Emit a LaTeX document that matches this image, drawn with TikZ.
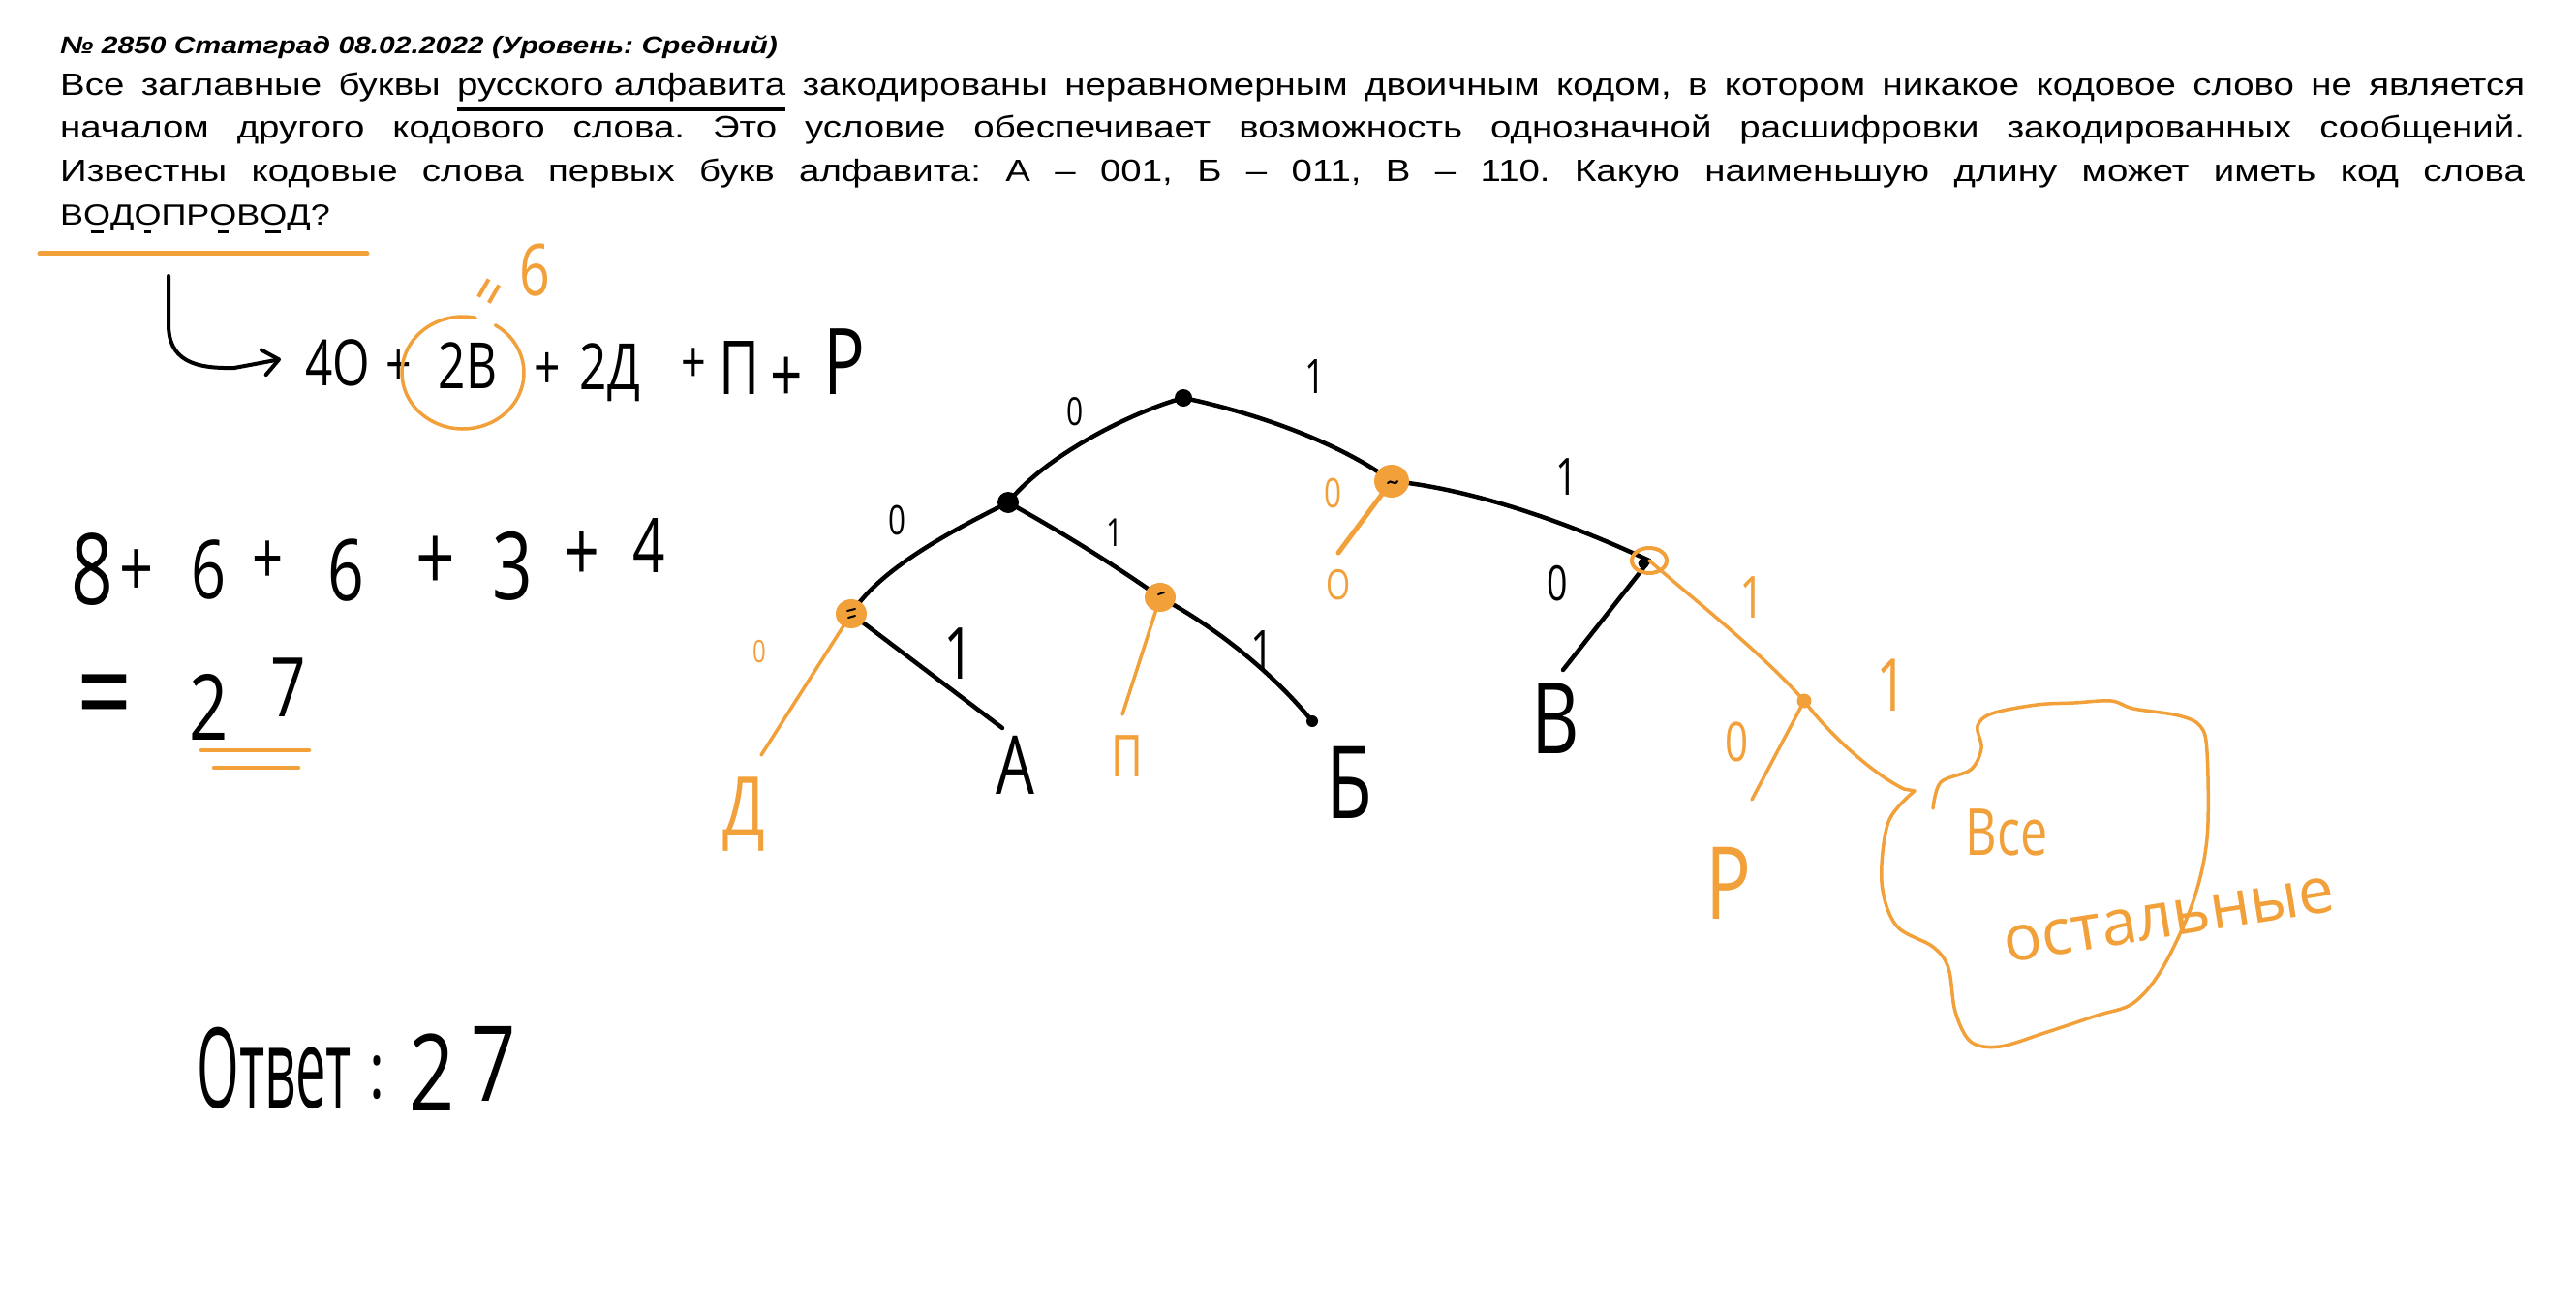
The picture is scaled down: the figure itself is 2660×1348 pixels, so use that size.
\documentclass[tikz,border=0pt]{standalone}
\usepackage{fontspec}
\setmainfont{Liberation Sans}[FakeStretch=1.2]
\newfontfamily\hwfont{Open Sans}[FakeStretch=0.75]
\newfontfamily\hwwide{Open Sans}
\usetikzlibrary{arrows.meta,shapes.geometric}
\definecolor{hworange}{RGB}{241,160,58}
\newcommand\fsz[1]{\fontsize{#1}{#1}\selectfont}
\newsavebox\ulbox
\newcommand\ulphrase[1]{\sbox\ulbox{#1}\rlap{\rule[-16pt]{\wd\ulbox}{3.5pt}}\usebox\ulbox}
\newcommand\odash[2]{\sbox\ulbox{#1}\rlap{\kern\dimexpr(\wd\ulbox-#2)/2\relax\rule[-8pt]{#2}{3pt}}\usebox\ulbox}
\frenchspacing
\tikzset{
  hdr/.style={anchor=base west, inner sep=0pt},
  hw/.style={inner sep=0pt, text=black},
  hwo/.style={inner sep=0pt, text=hworange},
  bedge/.style={draw=black, line width=4.5pt, line cap=round},
  oedge/.style={draw=hworange, line width=3.5pt, line cap=round},
  bdot/.style={circle, fill=black, inner sep=0pt},
  odot/.style={ellipse, fill=hworange, inner sep=0pt},
  scribble/.style={draw=black, line width=2pt, line cap=round},
}
\begin{document}
\begin{tikzpicture}[x=1pt,y=-1pt]
\useasboundingbox[fill=white] (0,0) rectangle (2660,1348);

% ---------- header text ----------
\node[hdr, font=\fsz{25}\bfseries\itshape] (title) at (62,56) {№ 2850 Статград 08.02.2022 (Уровень: Средний)};
\node[hdr, font=\fsz{32}] (l1) at (62,99) {\makebox[2545pt][s]{Все заглавные буквы \ulphrase{русского алфавита} закодированы неравномерным двоичным кодом, в котором никакое кодовое слово не является}};
\node[hdr, font=\fsz{32}] (l2) at (62,143) {\makebox[2545pt][s]{началом другого кодового слова. Это условие обеспечивает возможность однозначной расшифровки закодированных сообщений.}};
\node[hdr, font=\fsz{32}] (l3) at (62,188) {\makebox[2545pt][s]{Известны кодовые слова первых букв алфавита: А – 001, Б – 011, В – 110. Какую наименьшую длину может иметь код слова}};
\node[hdr, font=\fsz{30}] (l4) at (62,233) {В\odash{О}{13pt}Д\odash{О}{7pt}ПР\odash{О}{11pt}В\odash{О}{16pt}Д?};

\coordinate (u1) at (41,262);
\coordinate (u2) at (379,262);
\draw[oedge, line width=5pt] (u1) -- (u2);

% ---------- hook arrow ----------
\coordinate (hk0) at (174,285);
\coordinate (hk1) at (290,371);
\draw[line width=4pt, line cap=round, -{Straight Barb[length=16pt,width=26pt,round]}]
  (hk0) -- (174,335) .. controls (174,372) and (200,381) .. (242,380) -- (hk1);

% ---------- equation ----------
\node[hw, font={\hwfont\fsz{66}}] (e1) at (349,375) {4О};
\node[hw, font={\hwfont\fsz{62}}] (e2) at (412,380) {+};
\node[hw, font={\hwfont\fsz{66}}] (e3) at (483,378) {2В};
\node[hw, font={\hwfont\fsz{64}}] (e4) at (565,383) {+};
\node[hw, font={\hwfont\fsz{66}}] (e5) at (630,385) {2Д};
\node[hw, font={\hwfont\fsz{60}}] (e6) at (716,378) {+};
\node[hw, font={\hwfont\fsz{77}}] (e7) at (764,380) {П};
\node[hw, font={\hwfont\fsz{78}}] (e8) at (812,392) {+};
\node[hw, font={\hwfont\fsz{95}}] (e9) at (872,374) {Р};
\draw[draw=hworange, line width=3.5pt, line cap=round]
  ([shift={(-5,7)}]e3.center) ++(-58:63 and 58) arc[start angle=-58, end angle=282, x radius=63, y radius=58];
\node[hwo, font={\hwfont\fsz{62}}, rotate=60] (eqs) at (511,304) {=};
\node[hwo, font={\hwfont\fsz{74}}] (six) at (552,279) {6};

% ---------- sum ----------
\node[hw, font={\hwfont\fsz{102}}] (s1) at (95,588) {8};
\node[hw, font={\hwfont\fsz{82}}] (s2) at (141,592) {+};
\node[hw, font={\hwfont\fsz{84}}] (s3) at (216,588) {6};
\node[hw, font={\hwfont\fsz{75}}] (s4) at (277,581) {+};
\node[hw, font={\hwfont\fsz{88}}] (s5) at (357,589) {6};
\node[hw, font={\hwfont\fsz{95}}] (s6) at (450,582) {+};
\node[hw, font={\hwfont\fsz{97}}] (s7) at (529,585) {3};
\node[hw, font={\hwfont\fsz{86}}] (s8) at (601,575) {+};
\node[hw, font={\hwfont\fsz{78}}] (s9) at (670,564) {4};

\node[hw, font={\hwwide\fsz{100}}] (r1) at (108,730) {\scalebox{1}[1.35]{=}};
\node[hw, font={\hwfont\fsz{94}}] (r2) at (216,730) {2};
\node[hw, font={\hwfont\fsz{85}}] (r3) at (298,710) {7};
\coordinate (d1a) at (208,775); \coordinate (d1b) at (319,775);
\coordinate (d2a) at (221,793); \coordinate (d2b) at (308,793);
\draw[oedge, line width=4.5pt] (d1a) -- (d1b);
\draw[oedge, line width=4.5pt] (d2a) -- (d2b);

% ---------- answer ----------
\node[hw, font={\hwfont\fsz{115}}] (a1) at (283,1103) {\scalebox{0.65}[1]{Ответ}};
\node[hw, font={\hwfont\fsz{80}}] (a2) at (389,1113) {:};
\node[hw, font={\hwfont\fsz{110}}] (a3) at (446,1108) {2};
\node[hw, font={\hwfont\fsz{108}}] (a4) at (510,1099) {7};

% ---------- tree: vertex positions ----------
\coordinate (R) at (1222,411);
\coordinate (L) at (1041,519);
\coordinate (RN) at (1437,497);
\coordinate (LL) at (879,634);
\coordinate (LR) at (1198,617);
\coordinate (RRN) at (1703,579);
\coordinate (RRRN) at (1863,724);
\coordinate (Aend) at (1035,752);
\coordinate (Bend) at (1355,745);
\coordinate (Vend) at (1614,692);
\coordinate (Dend) at (786,780);
\coordinate (Pend) at (1159,738);
\coordinate (Oend) at (1382,571);
\coordinate (Rend) at (1809,826);
\coordinate (cloud) at (1977,817);

% black edges
\draw[bedge] (R) .. controls (1170,425) and (1080,470) .. (L);
\draw[bedge] (R) .. controls (1290,425) and (1380,455) .. (RN);
\draw[bedge] (RN) .. controls (1520,505) and (1620,540) .. (RRN);
\draw[bedge] (L) .. controls (990,545) and (910,585) .. (LL);
\draw[bedge] (L) .. controls (1095,549) and (1150,583) .. (LR);
\draw[bedge] (LL) -- (Aend);
\draw[bedge] (LR) .. controls (1250,645) and (1310,690) .. (Bend);
\draw[bedge] (RRN) -- (Vend);

% orange edges
\draw[oedge] (LL) -- (Dend);
\draw[oedge] (LR) -- (Pend);
\draw[oedge, line width=5pt] (RN) -- (Oend);
\draw[oedge] (RRN) .. controls (1750,620) and (1820,675) .. (RRRN);
\draw[oedge] (RRRN) -- (Rend);
\draw[oedge] (RRRN) .. controls (1890,760) and (1935,800) .. (1966,815) -- (cloud);

% cloud
\draw[oedge] plot[smooth, tension=0.55] coordinates {(1977,817) (1950,849) (1943,911) (1958,956) (1996,978) (2012,1000) (2019,1045) (2035,1076) (2065,1081) (2111,1067) (2165,1049) (2203,1036) (2233,1000) (2264,933) (2279,866) (2279,777) (2272,750) (2249,739) (2203,732) (2180,724) (2142,726) (2103,728) (2057,737) (2042,750) (2046,773) (2035,795) (2004,808) (1996,835)};

% vertex nodes
\node[bdot, minimum size=18pt] (vR) at (R) {};
\node[bdot, minimum size=22pt] (vL) at (L) {};
\node[odot, minimum width=36pt, minimum height=34pt] (vRN) at (RN) {};
\node[odot, minimum width=32pt, minimum height=30pt] (vLL) at (LL) {};
\node[odot, minimum width=32pt, minimum height=30pt] (vLR) at (LR) {};
\node[ellipse, draw=hworange, line width=4pt, minimum width=36pt, minimum height=26pt, inner sep=0pt] (vRRN) at (RRN) {};
\node[bdot, minimum size=11pt] (vRRNc) at (1697,582) {};
\node[circle, fill=hworange, minimum size=15pt, inner sep=0pt] (vRRRN) at (RRRN) {};
\node[bdot, minimum size=12pt] (vB) at (Bend) {};
\draw[scribble] (875,631) -- (883,629) (876,638) -- (883,636);
\draw[scribble] (1433,499) .. controls (1436,494) and (1440,503) .. (1443,497);
\draw[scribble] (1196,614) -- (1202,612);

% edge labels
\node[hw, font={\hwfont\fsz{40}}] (k1) at (1110,425) {0};
\node[hw, font={\hwfont\fsz{49}}] (k2) at (1358,389) {1};
\node[hw, font={\hwfont\fsz{42}}] (k3) at (926,537) {0};
\node[hw, font={\hwfont\fsz{40}}] (k4) at (1151,550) {1};
\node[hw, font={\hwfont\fsz{74}}] (k5) at (990,675) {1};
\node[hw, font={\hwfont\fsz{56}}] (k6) at (1303,672) {1};
\node[hw, font={\hwfont\fsz{53}}] (k7) at (1618,493) {1};
\node[hw, font={\hwfont\fsz{50}}] (k8) at (1608,603) {0};
\node[hwo, font={\hwfont\fsz{32}}] (k9) at (784,673) {0};
\node[hwo, font={\hwfont\fsz{42}}] (k10) at (1376,509) {0};
\node[hwo, font={\hwfont\fsz{60}}] (k11) at (1809,617) {1};
\node[hwo, font={\hwfont\fsz{56}}] (k12) at (1793,766) {0};
\node[hwo, font={\hwfont\fsz{75}}] (k13) at (1954,708) {1};

% leaves
\node[hw, font={\hwfont\fsz{84}}] (lA) at (1048,790) {А};
\node[hw, font={\hwfont\fsz{104}}] (lB) at (1393,808) {Б};
\node[hw, font={\hwfont\fsz{102}}] (lV) at (1606,742) {В};
\node[hwo, font={\hwfont\fsz{85}}] (lD) at (768,841) {Д};
\node[hwo, font={\hwfont\fsz{60}}] (lP) at (1164,781) {П};
\node[hwo, font={\hwfont\fsz{43}}] (lO) at (1382,604) {О};
\node[hwo, font={\hwfont\fsz{104}}] (lR) at (1785,912) {Р};
\node[hwo, font={\hwfont\fsz{67}}] (all1) at (2072,860) {Все};
\node[hwo, font={\hwwide\fsz{66}}, rotate=9] (all2) at (2240,950) {остальные};
\end{tikzpicture}
\end{document}
